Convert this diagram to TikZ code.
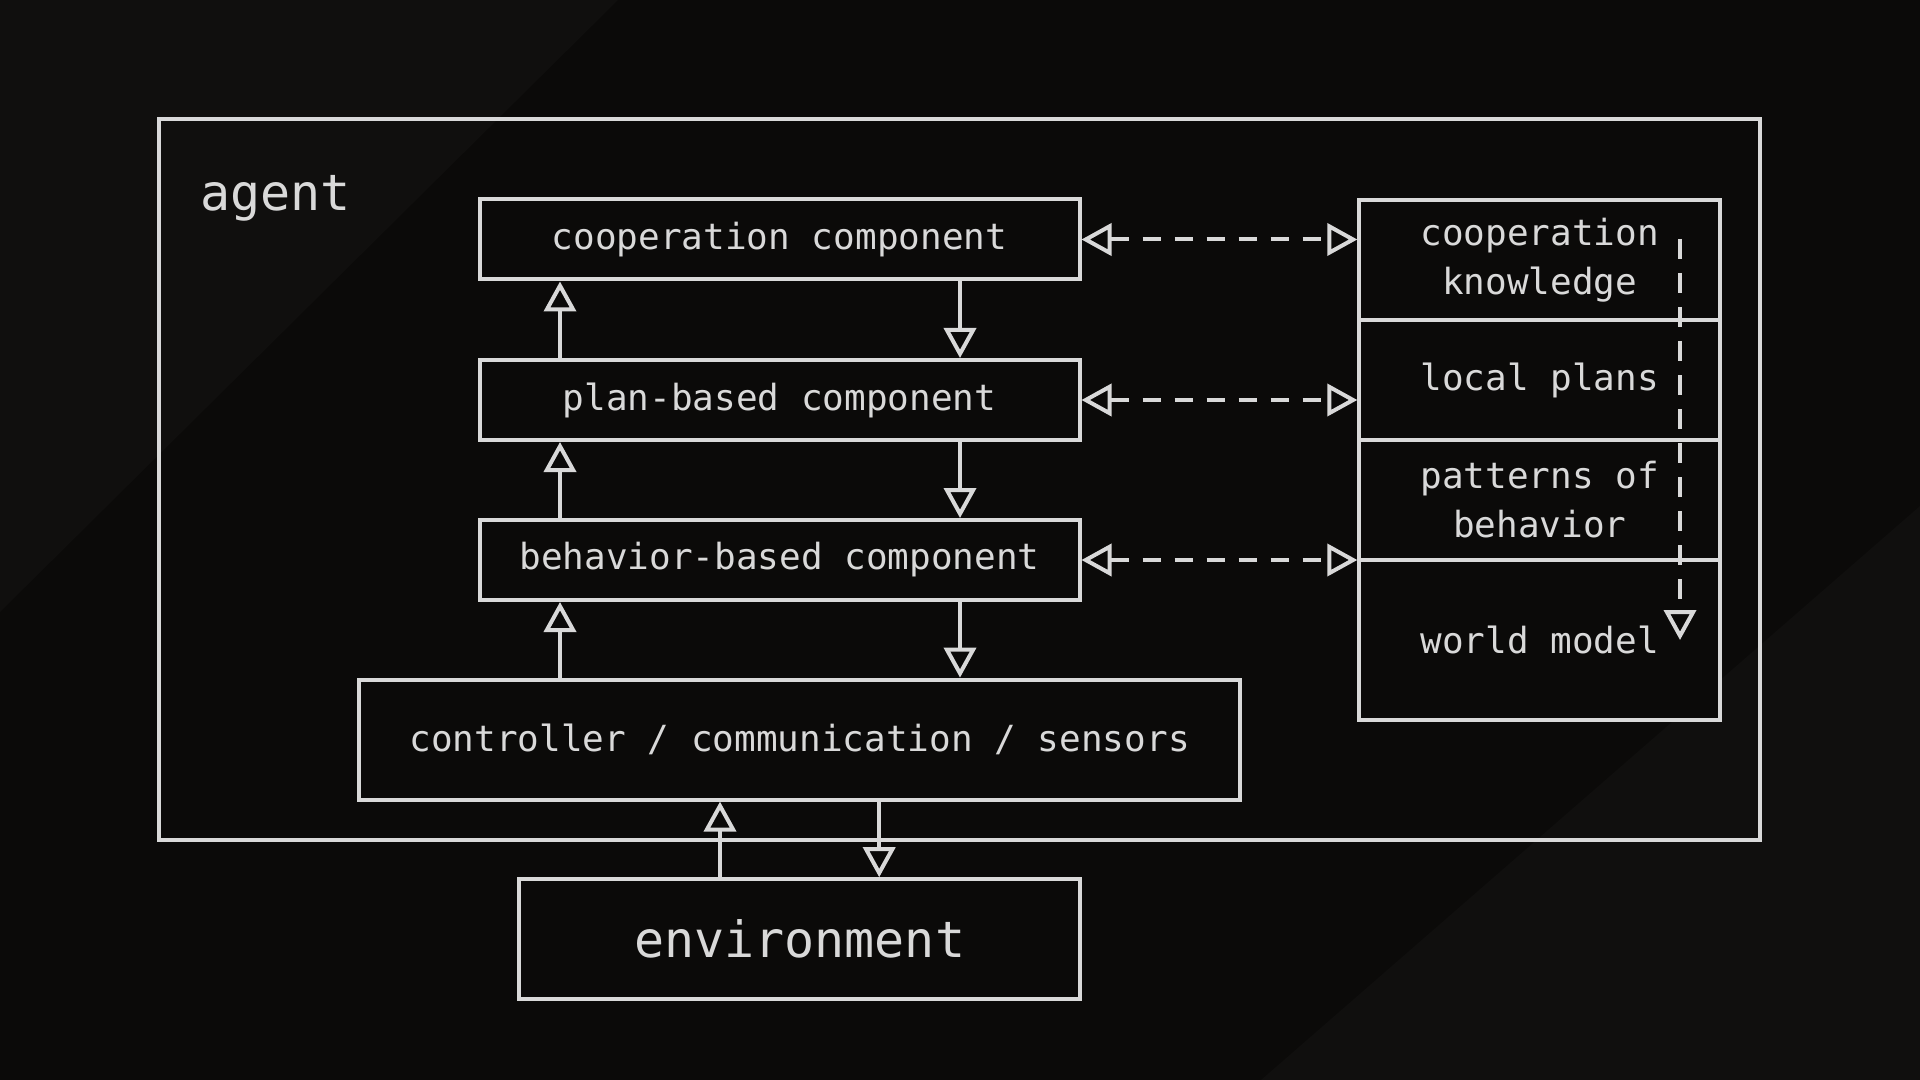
\documentclass[tikz,border=0pt]{standalone}
\usepackage{fontspec}
\setmonofont{DejaVu Sans Mono}
\usetikzlibrary{arrows.meta}
\definecolor{bgcol}{RGB}{11,10,9}
\definecolor{bglight}{RGB}{16,15,14}
\definecolor{linecol}{RGB}{217,217,217}
\tikzset{
  box/.style={draw=linecol, fill=bgcol, line width=2pt, inner sep=0pt, text=linecol,
    font=\ttfamily\fontsize{18}{24.5}\selectfont, align=center},
  opentip/.tip={Triangle[open, length=15pt, width=16pt]},
  solidarr/.style={draw=linecol, line width=2pt, -opentip},
  dasharr/.style={draw=linecol, line width=2pt, dash pattern=on 9pt off 7pt, opentip-opentip},
  vdasharr/.style={draw=linecol, line width=2pt, dash pattern=on 10pt off 7pt, -opentip},
}
\begin{document}
\begin{tikzpicture}[x=0.5pt, y=-0.5pt]
% background
\fill[bgcol] (0,0) rectangle (1920,1080);
\useasboundingbox (0,0) rectangle (1920,1080);
\fill[bglight] (0,0) -- (618,0) -- (0,612) -- cycle;
\fill[bglight] (1261,1080) -- (1920,506) -- (1920,1080) -- cycle;

% agent frame
\node[draw=linecol, line width=2pt, minimum width=800.5pt, minimum height=360.5pt, inner sep=0pt]
  (agentbox) at (959.5,479.5) {};
\node[anchor=base west, inner sep=0pt, text=linecol, font=\ttfamily\fontsize{25}{30}\selectfont]
  (agentlabel) at (200,211) {agent};

% left stack
\node[box, minimum width=300pt, minimum height=40pt] (coop) at (779.5,239.5) {cooperation component};
\node[box, minimum width=300pt, minimum height=40pt] (plan) at (779.5,400) {plan-based component};
\node[box, minimum width=300pt, minimum height=40pt] (beh)  at (779.5,560) {behavior-based component};
\node[box, minimum width=440.8pt, minimum height=60pt] (ctrl) at (799.6,739.6) {controller / communication / sensors};
\node[box, minimum width=280.5pt, minimum height=60pt, font=\ttfamily\fontsize{25}{30}\selectfont]
  (env) at (799.6,939.2) {environment};

% right stack
\node[box, minimum width=180.5pt, minimum height=60pt] (ck) at (1539.8,260) {cooperation\\knowledge};
\node[box, minimum width=180.5pt, minimum height=60pt] (lp) at (1539.8,380) {local plans};
\node[box, minimum width=180.5pt, minimum height=60pt] (pb) at (1539.8,500) {patterns of\\behavior};
\node[box, minimum width=180.5pt, minimum height=80pt] (wm) at (1539.8,640) {world model};

% x positions of vertical connectors
\coordinate (upx) at (560,0);
\coordinate (dnx) at (960,0);
\coordinate (envup) at (720,0);
\coordinate (envdn) at (879.2,0);
\coordinate (vs) at (1680,239);

% solid vertical arrows
\draw[solidarr] (plan.north -| upx) -- (coop.south -| upx);
\draw[solidarr] (coop.south -| dnx) -- (plan.north -| dnx);
\draw[solidarr] (beh.north -| upx) -- (plan.south -| upx);
\draw[solidarr] (plan.south -| dnx) -- (beh.north -| dnx);
\draw[solidarr] (ctrl.north -| upx) -- (beh.south -| upx);
\draw[solidarr] (beh.south -| dnx) -- (ctrl.north -| dnx);
\draw[solidarr] (env.north -| envup) -- (ctrl.south -| envup);
\draw[solidarr] (ctrl.south -| envdn) -- (env.north -| envdn);

% dashed horizontal arrows
\draw[dasharr] (coop.east) -- (coop.east -| ck.west);
\draw[dasharr] (plan.east) -- (plan.east -| lp.west);
\draw[dasharr] (beh.east) -- (beh.east -| pb.west);

% dashed vertical arrow
\draw[vdasharr] (vs) -- (wm.center -| vs);
\end{tikzpicture}
\end{document}
